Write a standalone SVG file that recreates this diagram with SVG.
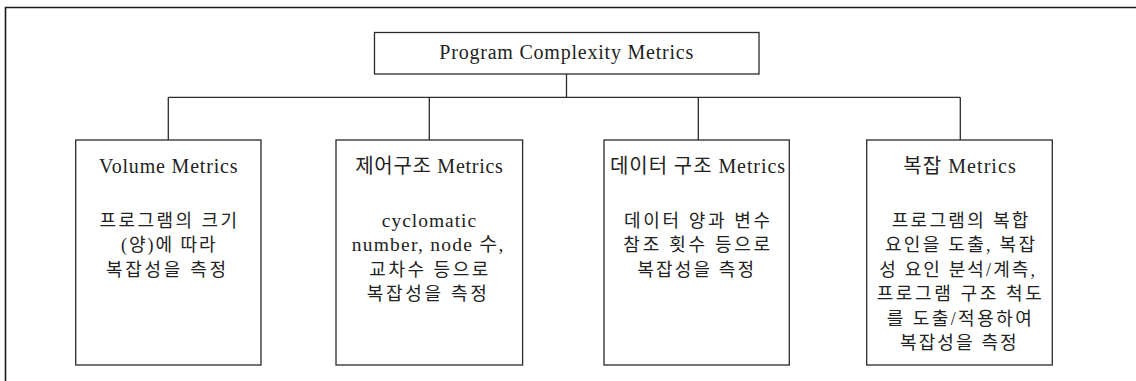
<svg xmlns="http://www.w3.org/2000/svg" width="1136" height="381" viewBox="0 0 1136 381">
<style>
  .frame { fill: none; stroke: #1a1a1a; stroke-width: 1.6; }
  .box { fill: #ffffff; stroke: #2a2a2a; stroke-width: 1.3; }
  .conn { fill: none; stroke: #2a2a2a; stroke-width: 1.3; }
  text { font-family: "Liberation Serif", "Noto Sans CJK KR", serif; font-size: 18px; fill: #222222; text-anchor: middle; }
  .ttl { font-size: 20px; }
  .lat { font-size: 19.5px; }
</style>
<rect x="0" y="0" width="1136" height="381" fill="#ffffff"/>
<path class="frame" d="M5.5,381 V7.5 H1136"/>
<g id="connectors">
  <path class="conn" d="M566.5,74 V97.3"/>
  <path class="conn" d="M168.3,97.3 H960.3"/>
  <path class="conn" d="M168.3,97.3 V140"/>
  <path class="conn" d="M429.3,97.3 V140"/>
  <path class="conn" d="M698.3,97.3 V140"/>
  <path class="conn" d="M960.3,97.3 V140"/>
</g>
<g id="root">
  <rect class="box" x="374.5" y="32.5" width="384.5" height="41.5"/>
  <text class="ttl" x="566.3" y="58.7" textLength="254" lengthAdjust="spacing">Program Complexity Metrics</text>
</g>
<g id="volume">
  <rect class="box" x="75.7" y="140" width="185.3" height="225"/>
  <text class="ttl" x="168.3" y="172.7" textLength="138.6" lengthAdjust="spacing">Volume Metrics</text>
  <text x="168.3" y="227" textLength="137.6" lengthAdjust="spacing">프로그램의 크기</text>
  <text x="168.3" y="251.4" textLength="94.6" lengthAdjust="spacing">(양)에 따라</text>
  <text x="166" y="275.8" textLength="120" lengthAdjust="spacing">복잡성을 측정</text>
</g>
<g id="control">
  <rect class="box" x="336" y="140" width="186.6" height="225"/>
  <text class="ttl" x="429" y="172.7" textLength="147.7" lengthAdjust="spacing">제어구조 Metrics</text>
  <text class="lat" x="429" y="227" textLength="94.3" lengthAdjust="spacing">cyclomatic</text>
  <text class="lat" x="427.5" y="251.4" textLength="151.7" lengthAdjust="spacing">number, node 수,</text>
  <text x="428.8" y="275.8" textLength="119" lengthAdjust="spacing">교차수 등으로</text>
  <text x="426.7" y="300.2" textLength="120" lengthAdjust="spacing">복잡성을 측정</text>
</g>
<g id="data">
  <rect class="box" x="604" y="140" width="185.3" height="225"/>
  <text class="ttl" x="697.5" y="172.7" textLength="175" lengthAdjust="spacing">데이터 구조 Metrics</text>
  <text x="697" y="227" textLength="146" lengthAdjust="spacing">데이터 양과 변수</text>
  <text x="696.7" y="251.4" textLength="146.7" lengthAdjust="spacing">참조 횟수 등으로</text>
  <text x="695.7" y="275.8" textLength="116.7" lengthAdjust="spacing">복잡성을 측정</text>
</g>
<g id="complex">
  <rect class="box" x="866.7" y="140" width="185.6" height="225"/>
  <text class="ttl" x="959.5" y="172.7" textLength="112.4" lengthAdjust="spacing">복잡 Metrics</text>
  <text x="960" y="227" textLength="136.7" lengthAdjust="spacing">프로그램의 복합</text>
  <text x="960" y="251.4" textLength="150" lengthAdjust="spacing">요인을 도출, 복잡</text>
  <text x="957.2" y="275.8" textLength="155.7" lengthAdjust="spacing">성 요인 분석/계측,</text>
  <text x="959.2" y="300.2" textLength="165" lengthAdjust="spacing">프로그램 구조 척도</text>
  <text x="959.2" y="324.6" textLength="145" lengthAdjust="spacing">를 도출/적용하여</text>
  <text x="958.3" y="349" textLength="116.7" lengthAdjust="spacing">복잡성을 측정</text>
</g>
</svg>
